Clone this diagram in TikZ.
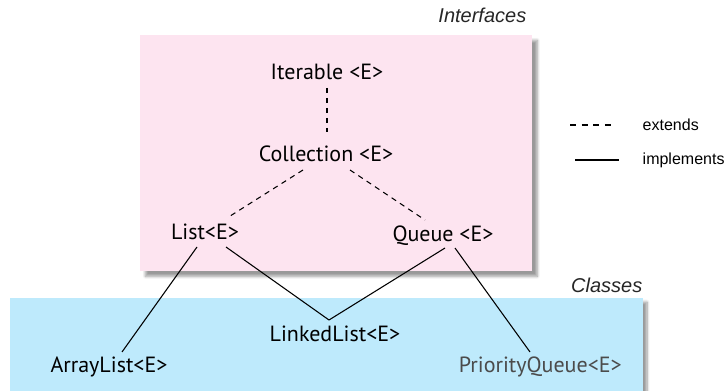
\documentclass[tikz,border=0pt]{standalone}
\usepackage{fontspec}
\setmainfont{PT Sans}
\newfontfamily\notefont{Liberation Sans}
\usepackage{xcolor}
\usetikzlibrary{calc, shadows.blur}
\definecolor{IfacePink}{RGB}{253, 228, 240}
\definecolor{ClassBlue}{RGB}{190, 234, 252}
\definecolor{GreyText}{RGB}{75, 75, 75}

\tikzset{
  typebox/.style={font=\fontsize{16.5}{19}\selectfont, inner sep=0pt, anchor=base},
  notelabel/.style={font=\notefont\itshape\fontsize{15}{17}\selectfont, text=black!85, anchor=east},
  legendlabel/.style={font=\notefont\fontsize{12}{14}\selectfont, anchor=west},
  extends/.style={dash pattern=on 4pt off 3.5pt, line width=0.8pt},
  implements/.style={line width=0.8pt}
}

\begin{document}
\begin{tikzpicture}[x=0.75pt, y=-0.75pt]
  \useasboundingbox (0,0) rectangle (724,391);

  % group backgrounds
  \fill[ClassBlue, blur shadow={shadow xshift=3pt, shadow yshift=-3pt, shadow blur steps=8}] (10,298) rectangle (643,400);
  \fill[IfacePink, blur shadow={shadow xshift=4pt, shadow yshift=-4pt, shadow blur steps=8}] (140,35) rectangle (532,271);
  \node[notelabel] (ifacetitle) at (531,15) {Interfaces};
  \node[notelabel] (classtitle) at (647,285) {Classes};

  % interfaces
  \node[typebox] (Iterable) at (327,80) {Iterable <E>};
  \node[typebox] (Collection) at (326,162) {Collection <E>};
  \node[typebox] (List) at (205,240) {List<E>};
  \node[typebox] (Queue) at (443,242) {Queue <E>};

  % classes
  \node[typebox] (LinkedList) at (335,342) {LinkedList<E>};
  \node[typebox] (ArrayList) at (109,373) {ArrayList<E>};
  \node[typebox, anchor=base east, text=GreyText] (PriorityQueue) at (622,373) {PriorityQueue<E>};

  % extends
  \draw[extends] ($(Iterable.base)+(0,8)$) -- ($(Collection.base)+(1,-30)$);
  \draw[extends] ($(Collection.base)+(-23,8)$) -- ($(List.base)+(22,-22)$);
  \draw[extends] ($(Collection.base)+(24,8)$) -- ($(Queue.base)+(-18,-22)$);

  % implements
  \draw[implements] ($(List.base)+(-8,7)$) -- ($(ArrayList.base)+(13,-21)$);
  \draw[implements] ($(List.base)+(21,7)$) -- ($(LinkedList.base)+(-6,-22)$);
  \draw[implements] ($(Queue.base)+(2,6)$) -- ($(LinkedList.base)+(-6,-22)$);
  \draw[implements] ($(Queue.base)+(12,6)$) -- ($(PriorityQueue.base east)+(-92,-21)$);

  % legend
  \coordinate (dashA) at (570,125);
  \coordinate (dashB) at (613,125);
  \coordinate (solidA) at (575,160);
  \coordinate (solidB) at (619,160);
  \draw[line width=1.1pt, dash pattern=on 4.5pt off 4.2pt] (dashA) -- (dashB);
  \draw[line width=2.2pt] (solidA) -- (solidB);
  \node[legendlabel] (extlabel) at (638,125) {extends};
  \node[legendlabel] (implabel) at (638,160) {implements};
\end{tikzpicture}
\end{document}
